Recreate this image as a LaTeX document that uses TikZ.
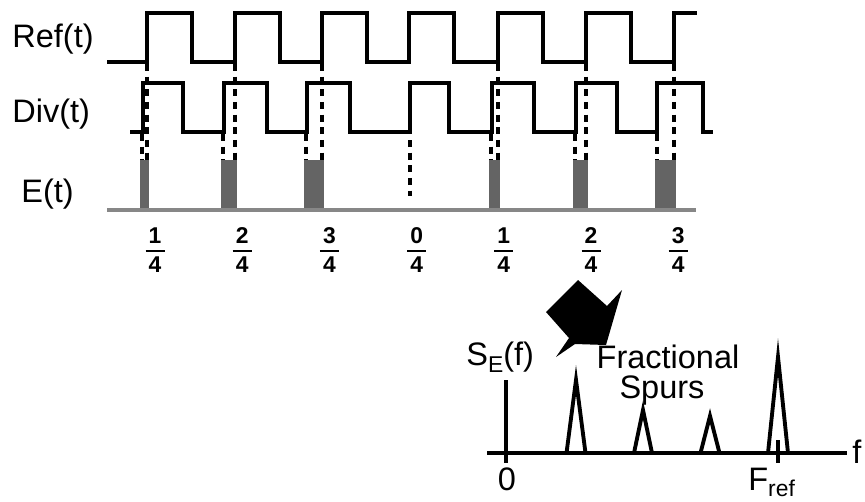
\documentclass[tikz,border=0pt]{standalone}
\usepackage{fontspec}
\setmainfont{Liberation Sans}
\definecolor{pulse}{RGB}{100,100,100}
\definecolor{rail}{RGB}{135,135,135}
\usetikzlibrary{calc}

\begin{document}
\begin{tikzpicture}[x=0.02cm, y=-0.02cm,
    wave/.style={line width=1.9pt, line join=miter},
    edge/.style={line width=1.8pt, dash pattern=on 4pt off 3.2pt},
    spec/.style={line width=2.2pt, line join=miter},
    lbl/.style={font=\fontsize{18.5}{16.5}\selectfont, inner sep=0pt},
    frc/.style={font=\fontsize{13}{14}\selectfont\bfseries, inner sep=0pt}]
  \useasboundingbox (0,0) rectangle (865,501);

  % signal names
  \node[lbl, anchor=base west] (ref) at (12,47) {Ref(t)};
  \node[lbl, anchor=base west] (div) at (12,122) {Div(t)};
  \node[lbl, anchor=base west] (err) at (21,202) {E(t)};

  % reference clock
  \draw[wave] (107,62) foreach \r in {147,235,322,409,498,586} {
      -- (\r,62) -- (\r,13) -- (\r+45,13) -- (\r+45,62) }
    -- (674,62) -- (674,13) -- (697,13);

  % divider output
  \draw[wave] (130,132) foreach \a/\b in {143/183,224/267,307/350,410/449,492/534,576/617,657/703} {
      -- (\a,132) -- (\a,83) -- (\b,83) -- (\b,132) }
    -- (713,132);

  % phase error pulses
  \foreach \d/\r in {142/147,223/235,306/322,491/498,575/586,657/674} {
    \fill[pulse] (\d-2,160) rectangle (\r+2,210);
    \draw[edge] (\r,64) -- (\r,160);
    \draw[edge] (\d,134) -- (\d,160);
  }
  \draw[edge] (410,140) -- (410,196);
  \draw[rail, line width=2.3pt] (107,210) -- (696,210);

  % fractional phase
  \foreach \n [count=\i from 0] in {1,2,3,0,1,2,3} {
    \pgfmathsetmacro{\xf}{155+87.2*\i}
    \node[frc] (num\i) at (\xf,236) {\n};
    \node[frc] (den\i) at (\xf,265) {4};
    \draw[line width=1.3pt] (\xf-9.5,251) -- (\xf+9.5,251);
  }

  % big arrow
  \fill (546,312) -- (578,280) -- (607,306) -- (622,290) -- (606,345)
    -- (575,344) -- (556,357) -- (569,338) -- cycle;

  % spectrum
  \draw[spec] (487,453) -- (847,453);
  \draw[spec] (506,380) -- (506,463);
  \draw[spec] (778,440) -- (778,463);
  \foreach \c/\h/\w in {576/380/9.5,643/410/9,710/416/9.5,778/357/10}
    \draw[spec] (\c-\w,453) -- (\c,\h) -- (\c+\w,453);
  \node[lbl, anchor=base west] (se) at (466,365)
    {S\raisebox{-0.45ex}{\fontsize{13}{12}\selectfont E}(f)};
  \node[lbl, anchor=base] (frac) at (668,368) {Fractional};
  \node[lbl, anchor=base] (spurs) at (662,398) {Spurs};
  \node[lbl] (zero) at (507,479) {0};
  \node[lbl, anchor=base west] (fref) at (748,490)
    {F\raisebox{-0.4ex}{\fontsize{13}{12}\selectfont ref}};
  \node[lbl, anchor=base west] (faxis) at (852,463) {f};
\end{tikzpicture}
\end{document}
